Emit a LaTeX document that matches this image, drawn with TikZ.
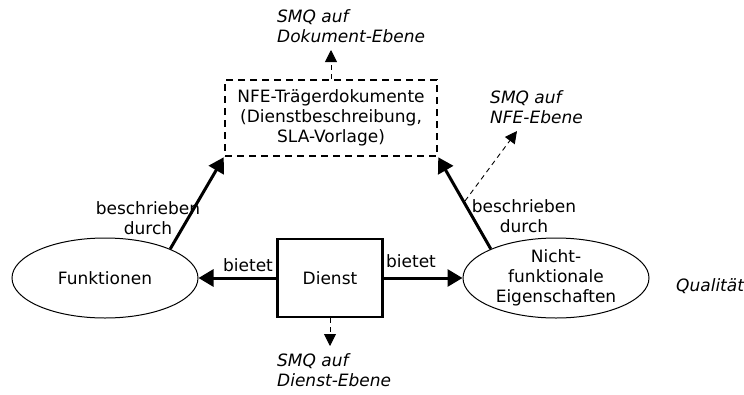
\documentclass[tikz,border=0pt]{standalone}
\usepackage{fontspec}
\setmainfont{DejaVu Sans}
\usetikzlibrary{arrows.meta,shapes.geometric}
\begin{document}
\begin{tikzpicture}[x=1pt,y=-1pt,
  every node/.style={font=\fontsize{17}{20}\selectfont},
  lbl/.style={align=center, inner sep=0pt},
  smq/.style={align=left, inner sep=0pt, anchor=north west, font=\fontsize{17}{20}\selectfont\itshape},
  entity/.style={ellipse, draw, line width=1pt, minimum width=186pt, minimum height=80pt, inner sep=0pt, align=center},
  service/.style={draw, line width=2.5pt, minimum width=105pt, minimum height=78pt},
  doc/.style={draw, line width=2.5pt, dash pattern=on 7pt off 5pt, minimum width=212pt, minimum height=76pt, align=center},
  strong/.style={line width=3pt, -{Triangle[length=15pt,width=17pt]}},
  weak/.style={line width=0.9pt, dash pattern=on 5pt off 4pt, -{Triangle[length=12pt,width=12pt]}}
]
\useasboundingbox (0,0) rectangle (744,394);

\node[entity] (fkt) at (105,278) {Funktionen};
\node[service] (dienst) at (330,278) {Dienst};
\node[entity] (nfe) at (556,278) {Nicht-\\funktionale\\Eigenschaften};
\node[doc] (docs) at (331,118) {NFE-Trägerdokumente\\(Dienstbeschreibung,\\SLA-Vorlage)};

\coordinate (docup) at (331,50);
\coordinate (dienstdown) at (330,346);
\coordinate (nfeup) at (517,131);
\coordinate (nfefoot) at (465,201);

\draw[strong] (dienst) -- (fkt);
\draw[strong] (dienst) -- (nfe);
\draw[strong] (fkt.24) -- (docs.south west);
\draw[strong] (nfe.156) -- (docs.south east);

\draw[weak] (docs.north) -- (docup);
\draw[weak] (dienst.south) -- (dienstdown);
\draw[weak] (nfefoot) -- (nfeup);

\node[lbl] (bl) at (148,218) {beschrieben\\durch};
\node[lbl] (br) at (524,216) {beschrieben\\durch};
\node[lbl, anchor=south] (bt1) at (248,272) {bietet};
\node[lbl, anchor=south] (bt2) at (411,268) {bietet};

\node[smq] (smqdoc) at (277,9) {SMQ auf\\Dokument-Ebene};
\node[smq] (smqnfe) at (490,90) {SMQ auf\\NFE-Ebene};
\node[smq] (smqdienst) at (277,353) {SMQ auf\\Dienst-Ebene};
\node[smq, anchor=west] (qual) at (676,286) {Qualität};
\end{tikzpicture}
\end{document}
